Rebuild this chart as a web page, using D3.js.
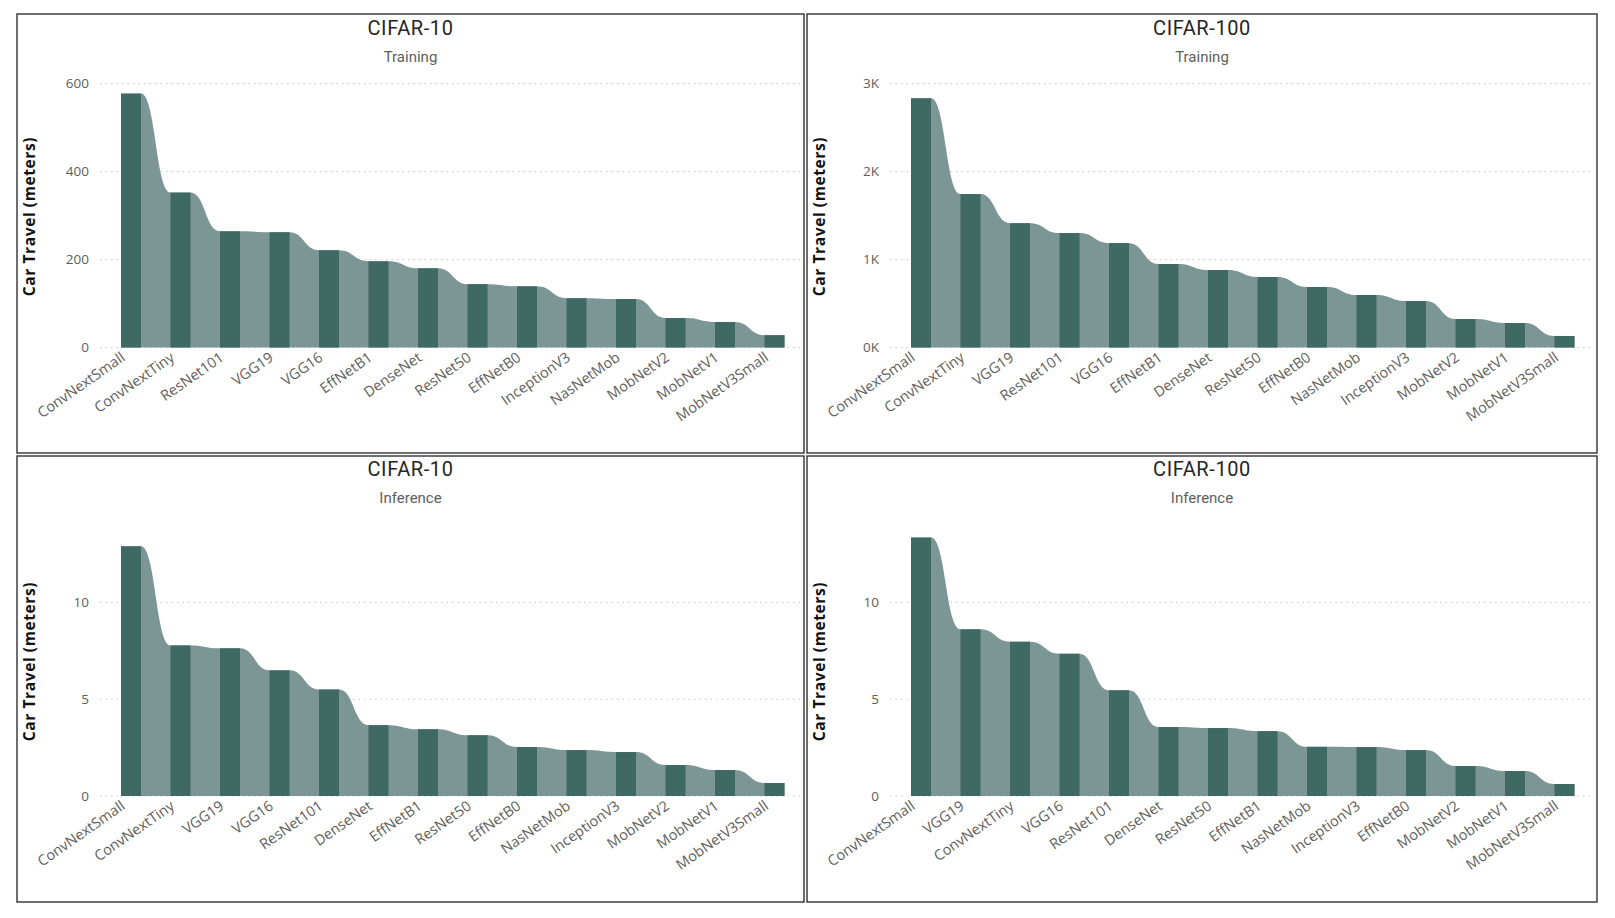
<!DOCTYPE html>
<head>
<meta charset="UTF-8">
<script src="https://cdn.jsdelivr.net/npm/d3@7"></script>
<style>
body {
  margin: 0;
  background: #fff;
}
svg {
  display: block;
}
.frame {
  fill: none;
  stroke: #222;
  stroke-width: 1.3px;
}
.title {
  font-family: Roboto, sans-serif;
  font-size: 20px;
  letter-spacing: 0.6px;
  fill: #252423;
}
.subtitle {
  font-family: Roboto, sans-serif;
  font-size: 15px;
  fill: #605e5c;
}
.ylabel {
  font-family: "Open Sans", sans-serif;
  font-size: 15.5px;
  font-weight: bold;
  letter-spacing: 0.6px;
  fill: #111;
}
.tick-y {
  font-family: "Open Sans", sans-serif;
  font-size: 13.5px;
  fill: #605e5c;
}
.tick-x {
  font-family: "Open Sans", sans-serif;
  font-size: 14.5px;
  fill: #605e5c;
}
.grid {
  stroke: #c8c8c8;
  stroke-width: 1px;
  stroke-dasharray: 1.5,4;
}
.bar {
  fill: #3f6963;
}
.ribbon {
  fill: #7b9694;
}
</style>
</head>
<body>
<script>

// CIFAR-10 training
var c10TrainNames = ["ConvNextSmall", "ConvNextTiny", "ResNet101", "VGG19", "VGG16", "EffNetB1", "DenseNet",
    "ResNet50", "EffNetB0", "InceptionV3", "NasNetMob", "MobNetV2", "MobNetV1", "MobNetV3Small"];
var c10TrainValues = [577, 352, 264, 262, 221, 196, 180, 144, 139, 112, 110, 67, 58, 28];

// CIFAR-100 training
var c100TrainNames = ["ConvNextSmall", "ConvNextTiny", "VGG19", "ResNet101", "VGG16", "EffNetB1", "DenseNet",
    "ResNet50", "EffNetB0", "NasNetMob", "InceptionV3", "MobNetV2", "MobNetV1", "MobNetV3Small"];
var c100TrainValues = [2832, 1744, 1413, 1300, 1186, 949, 880, 801, 688, 597, 528, 323, 278, 131];

// CIFAR-10 inference
var c10InferNames = ["ConvNextSmall", "ConvNextTiny", "VGG19", "VGG16", "ResNet101", "DenseNet", "EffNetB1",
    "ResNet50", "EffNetB0", "NasNetMob", "InceptionV3", "MobNetV2", "MobNetV1", "MobNetV3Small"];
var c10InferValues = [12.9, 7.78, 7.63, 6.49, 5.5, 3.66, 3.45, 3.14, 2.53, 2.37, 2.27, 1.6, 1.34, 0.67];

// CIFAR-100 inference
var c100InferNames = ["ConvNextSmall", "VGG19", "ConvNextTiny", "VGG16", "ResNet101", "DenseNet", "ResNet50",
    "EffNetB1", "NasNetMob", "InceptionV3", "EffNetB0", "MobNetV2", "MobNetV1", "MobNetV3Small"];
var c100InferValues = [13.35, 8.61, 7.97, 7.35, 5.46, 3.56, 3.51, 3.35, 2.54, 2.53, 2.37, 1.55, 1.29, 0.62];

var trainTicks = [0, 200, 400, 600];
var train100Ticks = [0, 1000, 2000, 3000];
var inferTicks = [0, 5, 10];

var width = 1615,
    height = 918;

var svg = d3.select("body").append("svg")
    .attr("width", width)
    .attr("height", height);

var panels = [
  {x: 17, y: 14, w: 787, h: 439, title: "CIFAR-10", sub: "Training",
   names: c10TrainNames, values: c10TrainValues, max: 600, ticks: trainTicks, fmt: d3.format("d"), y0: 333.5, top: 69.5, ty: 14.3},
  {x: 807, y: 14, w: 790, h: 439, title: "CIFAR-100", sub: "Training",
   names: c100TrainNames, values: c100TrainValues, max: 3000, ticks: train100Ticks, fmt: function(d) { return (d / 1000) + "K"; }, y0: 333.5, top: 69.5, ty: 14.3},
  {x: 17, y: 456, w: 787, h: 446, title: "CIFAR-10", sub: "Inference",
   names: c10InferNames, values: c10InferValues, max: 14, ticks: inferTicks, fmt: d3.format("d"), y0: 340, top: 69, ty: 13},
  {x: 807, y: 456, w: 790, h: 446, title: "CIFAR-100", sub: "Inference",
   names: c100InferNames, values: c100InferValues, max: 14, ticks: inferTicks, fmt: d3.format("d"), y0: 340, top: 69, ty: 13}
];

panels.forEach(function(p) {
  var g = svg.append("g").attr("transform", "translate(" + p.x + "," + p.y + ")");

  g.append("rect")
      .attr("class", "frame")
      .attr("width", p.w)
      .attr("height", p.h);

  g.append("text")
      .attr("class", "title")
      .attr("x", p.w / 2)
      .attr("y", p.ty)
      .attr("dy", "0.35em")
      .attr("text-anchor", "middle")
      .text(p.title);

  g.append("text")
      .attr("class", "subtitle")
      .attr("x", p.w / 2)
      .attr("y", p.ty + 28.5)
      .attr("dy", "0.35em")
      .attr("text-anchor", "middle")
      .text(p.sub);

  var y = d3.scaleLinear()
      .domain([0, p.max])
      .range([p.y0, p.top]);

  var left = 104, step = 49.5, bw = 20;
  var x = d3.scaleBand()
      .domain(p.names)
      .range([left, left + (p.names.length - 1) * step + bw])
      .paddingInner((step - bw) / step)
      .paddingOuter(0);

  // gridlines + y ticks
  g.selectAll(".grid")
      .data(p.ticks)
      .enter().append("line")
      .attr("class", "grid")
      .attr("x1", 83)
      .attr("x2", p.w - 3)
      .attr("y1", function(d) { return y(d); })
      .attr("y2", function(d) { return y(d); });

  g.selectAll(".tick-y")
      .data(p.ticks)
      .enter().append("text")
      .attr("class", "tick-y")
      .attr("x", 72)
      .attr("y", function(d) { return y(d); })
      .attr("dy", "0.35em")
      .attr("text-anchor", "end")
      .text(p.fmt);

  g.append("text")
      .attr("class", "ylabel")
      .attr("transform", "translate(13," + ((p.y0 + p.top) / 2 + 1) + ") rotate(-90)")
      .attr("dy", "0.35em")
      .attr("text-anchor", "middle")
      .text("Car Travel (meters)");

  // ribbon joining the bar tops
  var pts = [];
  p.names.forEach(function(n, i) {
    pts.push([x(n), p.values[i]]);
    pts.push([x(n) + x.bandwidth(), p.values[i]]);
  });

  var area = d3.area()
      .curve(d3.curveBumpX)
      .x(function(d) { return d[0]; })
      .y0(y(0))
      .y1(function(d) { return y(d[1]); });

  g.append("path")
      .datum(pts)
      .attr("class", "ribbon")
      .attr("d", area);

  g.selectAll(".bar")
      .data(p.values)
      .enter().append("rect")
      .attr("class", "bar")
      .attr("x", function(d, i) { return x(p.names[i]); })
      .attr("width", x.bandwidth())
      .attr("y", function(d) { return y(d); })
      .attr("height", function(d) { return y(0) - y(d); });

  g.selectAll(".tick-x")
      .data(p.names)
      .enter().append("text")
      .attr("class", "tick-x")
      .attr("transform", function(d) {
        return "translate(" + (x(d) + x.bandwidth() / 2 - 8) + "," + (y(0) + 8) + ") rotate(-35)";
      })
      .attr("dy", "0.35em")
      .attr("text-anchor", "end")
      .text(function(d) { return d; });
});

</script>
</body>
